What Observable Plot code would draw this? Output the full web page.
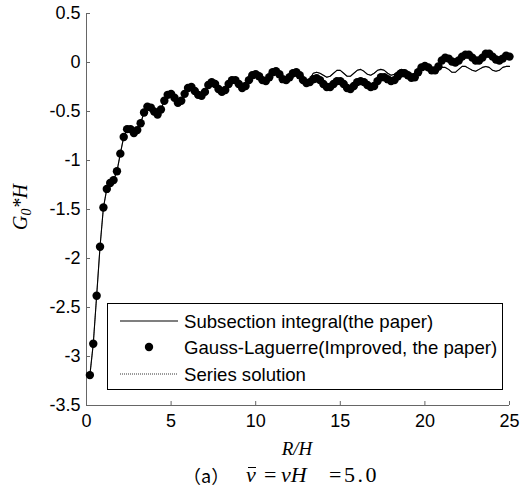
<!DOCTYPE html>
<html><head><meta charset="utf-8">
<script src="https://cdn.jsdelivr.net/npm/d3@7"></script>
<script src="https://cdn.jsdelivr.net/npm/@observablehq/plot@0.6"></script>
<style>
body{margin:0;background:#fff;}
#wrap{position:relative;width:521px;height:495px;background:#fff;}
#legend{position:absolute;left:107px;top:303px;width:394px;height:85px;border:1.5px solid #000;background:#fff;}
#legend svg{position:absolute;left:0;top:0;}
#cap{position:absolute;left:0;top:462px;width:521px;height:30px;font-family:"Liberation Serif","Times New Roman",serif;font-size:22px;line-height:26px;color:#000;white-space:nowrap;}
#cap span{position:absolute;top:0;}
#cap .cjk{font-family:"Noto Sans CJK SC",sans-serif;font-size:18px;}
#cap .bar::before{content:"";position:absolute;left:2px;right:0px;top:5px;border-top:1.3px solid #000;}
</style></head><body><div id="wrap"></div>
<script>
const rH = [0.2,0.4,0.6,0.8,1.0,1.2,1.4,1.6,1.8,2.0,2.2,2.4,2.6,2.8,3.0,3.2,3.4,3.6,3.8,4.0,
4.2,4.4,4.6,4.8,5.0,5.2,5.4,5.6,5.8,6.0,6.2,6.4,6.6,6.8,7.0,7.2,7.4,7.6,7.8,8.0,
8.2,8.4,8.6,8.8,9.0,9.2,9.4,9.6,9.8,10.0,10.2,10.4,10.6,10.8,11.0,11.2,11.4,11.6,11.8,12.0,
12.2,12.4,12.6,12.8,13.0,13.2,13.4,13.6,13.8,14.0,14.2,14.4,14.6,14.8,15.0,15.2,15.4,15.6,15.8,16.0,
16.2,16.4,16.6,16.8,17.0,17.2,17.4,17.6,17.8,18.0,18.2,18.4,18.6,18.8,19.0,19.2,19.4,19.6,19.8,20.0,
20.2,20.4,20.6,20.8,21.0,21.2,21.4,21.6,21.8,22.0,22.2,22.4,22.6,22.8,23.0,23.2,23.4,23.6,23.8,24.0,
24.2,24.4,24.6,24.8,25.0];

// Gauss-Laguerre (Improved, the paper) — dots
const gaussY = [-3.19,-2.87,-2.38,-1.88,-1.48,-1.29,-1.23,-1.20,-1.11,-0.93,-0.76,-0.68,-0.68,-0.72,-0.69,-0.62,-0.51,-0.45,-0.46,-0.50,
-0.53,-0.48,-0.39,-0.33,-0.32,-0.36,-0.41,-0.39,-0.32,-0.26,-0.25,-0.29,-0.33,-0.34,-0.30,-0.23,-0.20,-0.22,-0.27,-0.30,
-0.28,-0.22,-0.18,-0.18,-0.22,-0.26,-0.24,-0.18,-0.13,-0.12,-0.14,-0.18,-0.19,-0.15,-0.10,-0.09,-0.12,-0.17,-0.18,-0.15,
-0.11,-0.10,-0.13,-0.18,-0.21,-0.20,-0.17,-0.16,-0.18,-0.22,-0.25,-0.25,-0.22,-0.19,-0.19,-0.22,-0.26,-0.27,-0.24,-0.20,
-0.19,-0.20,-0.23,-0.25,-0.24,-0.19,-0.15,-0.15,-0.17,-0.19,-0.18,-0.14,-0.11,-0.11,-0.13,-0.155,-0.15,-0.10,-0.05,-0.035,
-0.05,-0.08,-0.08,-0.04,0.02,0.05,0.04,0.01,0.00,0.02,0.06,0.08,0.08,0.05,0.02,0.02,0.05,0.09,0.09,0.06,
0.03,0.02,0.04,0.07,0.06];

// Subsection integral (the paper) — solid line
const subsectionY = [-3.19,-2.87,-2.38,-1.88,-1.48,-1.29,-1.23,-1.20,-1.11,-0.93,-0.76,-0.68,-0.68,-0.72,-0.69,-0.62,-0.51,-0.45,-0.46,-0.50,
-0.53,-0.48,-0.39,-0.33,-0.32,-0.36,-0.41,-0.39,-0.32,-0.26,-0.25,-0.29,-0.33,-0.34,-0.30,-0.23,-0.20,-0.22,-0.27,-0.30,
-0.28,-0.22,-0.18,-0.18,-0.22,-0.26,-0.24,-0.18,-0.13,-0.12,-0.14,-0.18,-0.19,-0.15,-0.10,-0.09,-0.12,-0.17,-0.18,-0.15,
-0.11,-0.10,-0.13,-0.18,-0.21,-0.17,-0.11,-0.10,-0.11,-0.13,-0.15,-0.14,-0.11,-0.08,-0.08,-0.11,-0.14,-0.14,-0.11,-0.08,
-0.07,-0.09,-0.12,-0.13,-0.11,-0.08,-0.07,-0.08,-0.11,-0.13,-0.12,-0.09,-0.07,-0.08,-0.10,-0.12,-0.11,-0.08,-0.05,-0.05,
-0.08,-0.10,-0.11,-0.08,-0.05,-0.05,-0.07,-0.10,-0.10,-0.07,-0.04,-0.04,-0.06,-0.08,-0.09,-0.07,-0.05,-0.04,-0.05,-0.08,
-0.09,-0.08,-0.05,-0.04,-0.04];

// Series solution — thin dotted line (coincides with the subsection integral)
const seriesY = subsectionY.slice();

const xTicks = [0,5,10,15,20,25];
const yTicks = [-3.5,-3,-2.5,-2,-1.5,-1,-0.5,0,0.5];
const legendLabels = ["Subsection integral(the paper)","Gauss-Laguerre(Improved, the paper)","Series solution"];

const dots = rH.map((x,i)=>({x, y: gaussY[i]}));
const sub = rH.map((x,i)=>({x, y: subsectionY[i]}));
const ser = rH.map((x,i)=>({x, y: seriesY[i]}));

const axisColor = "#666";
const plot = Plot.plot({
  width:521, height:459,
  marginLeft:86, marginRight:12, marginTop:13, marginBottom:54,
  style:{fontFamily:"'Liberation Sans',Arial,sans-serif", fontSize:"18px", color:"#000", background:"#fff", overflow:"visible"},
  x:{domain:[0,25]},
  y:{domain:[-3.5,0.5]},
  marks:[
    Plot.ruleY([-3.5], {stroke:axisColor, strokeWidth:1}),
    Plot.ruleX([0], {stroke:axisColor, strokeWidth:1}),
    Plot.axisX({ticks:xTicks, tickSize:-4, tickPadding:13, tickFormat:d=>String(d), label:null, stroke:axisColor, fill:"#000"}),
    Plot.axisY({ticks:yTicks, tickSize:-4, tickPadding:10, tickFormat:d=>String(d), label:null, stroke:axisColor, fill:"#000"}),
    Plot.dot(dots, {x:"x", y:"y", r:4.2, fill:"#000", stroke:null}),
    Plot.line(sub, {x:"x", y:"y", stroke:"#000", strokeWidth:1.1}),
    Plot.line(ser, {x:"x", y:"y", stroke:"#000", strokeWidth:0.6, strokeDasharray:"1,1"})
  ]
});
const wrap = document.getElementById("wrap");
wrap.appendChild(plot);

const svg = d3.select(plot);
// y-axis label G0*H
const yl = svg.append("text")
  .attr("transform","translate(27,207) rotate(-90)")
  .attr("text-anchor","middle")
  .attr("font-family","'Liberation Serif','Times New Roman',serif")
  .attr("font-style","italic").attr("font-size",20).attr("fill","#000");
yl.append("tspan").text("G");
yl.append("tspan").attr("font-size",14).attr("dy",4).text("0");
yl.append("tspan").attr("dy",-4).text("*H");
// x-axis label R/H
svg.append("text")
  .attr("x",297).attr("y",455)
  .attr("text-anchor","middle")
  .attr("font-family","'Liberation Serif','Times New Roman',serif")
  .attr("font-style","italic").attr("font-size",19).attr("fill","#000")
  .text("R/H");

// legend
const leg = document.createElement("div");
leg.id = "legend";
wrap.appendChild(leg);
const ls = d3.select(leg).append("svg").attr("width",394).attr("height",85);
const rowsY = [17, 43, 70];
legendLabels.forEach((lab,i)=>{
  const g = ls.append("g");
  if(i===0) g.append("line").attr("x1",12).attr("x2",70).attr("y1",rowsY[i]).attr("y2",rowsY[i]).attr("stroke","#000").attr("stroke-width",1.1);
  if(i===1) g.append("circle").attr("cx",41).attr("cy",rowsY[i]).attr("r",4.2).attr("fill","#000");
  if(i===2) g.append("line").attr("x1",12).attr("x2",70).attr("y1",rowsY[i]).attr("y2",rowsY[i]).attr("stroke","#000").attr("stroke-width",0.8).attr("stroke-dasharray","1,1");
  g.append("text").attr("x",76).attr("y",rowsY[i]).attr("dy","0.35em")
    .attr("font-family","'Liberation Sans',Arial,sans-serif").attr("font-size",18.6).attr("fill","#000").text(lab);
});

// caption
const cap = document.createElement("div");
cap.id = "cap";
cap.innerHTML = '<span class="cjk" style="left:183px">（a）</span>'
  + '<span style="left:246px"><i class="bar" style="position:relative;display:inline-block">ν</i></span>'
  + '<span style="left:264px">=</span>'
  + '<span style="left:281px"><i>νH</i></span>'
  + '<span style="left:329px;letter-spacing:2.5px">=5.0</span>';
wrap.appendChild(cap);
</script></body></html>
